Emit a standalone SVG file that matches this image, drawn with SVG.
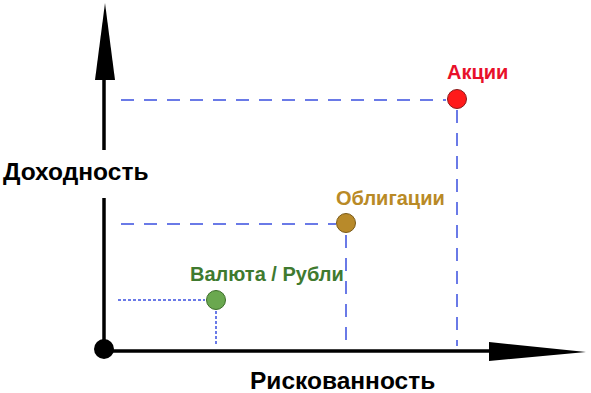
<svg xmlns="http://www.w3.org/2000/svg" width="591" height="393" viewBox="0 0 591 393">
<style>
.axis{stroke:#000;stroke-width:3.5;fill:none}
.dash{stroke:#3a4fe0;stroke-width:1.5;stroke-dasharray:13 10;fill:none}
.dot{stroke:#3a4fe0;stroke-width:1.5;stroke-dasharray:3 2;fill:none}
.title{font-family:"Liberation Sans",Arial,sans-serif;font-weight:bold;font-size:24.5px;fill:#000}
.lbl{font-family:"Liberation Sans",Arial,sans-serif;font-weight:bold;font-size:20px}
</style>
<rect width="591" height="393" fill="#fff"/>
<g id="connectors">
<line class="dash" x1="121" y1="100" x2="446" y2="100"/>
<line class="dash" x1="457" y1="110" x2="457" y2="346"/>
<line class="dash" x1="121" y1="224" x2="336" y2="224"/>
<line class="dash" x1="346" y1="235" x2="346" y2="346"/>
<line class="dot" x1="118" y1="300" x2="205" y2="300"/>
<line class="dot" x1="216" y1="311" x2="216" y2="346"/>
</g>
<g id="axes">
<line class="axis" x1="104" y1="78" x2="104" y2="150"/>
<line class="axis" x1="104" y1="198" x2="104" y2="351"/>
<polygon points="95,80 115,80 105,3" fill="#000"/>
<line class="axis" x1="104" y1="351" x2="492" y2="351"/>
<polygon points="489,342 489,361 586,352" fill="#000"/>
<circle cx="104" cy="349" r="10" fill="#000"/>
</g>
<g id="y-label"><text class="title" x="3" y="180">Доходность</text></g>
<g id="x-label"><text class="title" x="250" y="389">Рискованность</text></g>
<g id="stocks">
<circle cx="457" cy="99" r="9.5" fill="#ff1a1a" stroke="#8a1a1a" stroke-width="1"/>
<text class="lbl" x="447" y="79" fill="#e8102a">Акции</text>
</g>
<g id="bonds">
<circle cx="346" cy="223" r="9.5" fill="#b88a2a" stroke="#7a5a18" stroke-width="1"/>
<text class="lbl" x="336" y="205" fill="#b98a26">Облигации</text>
</g>
<g id="currency">
<circle cx="216" cy="300" r="9.5" fill="#6aa84f" stroke="#3d6e2a" stroke-width="1"/>
<text class="lbl" x="190" y="281" fill="#3f7a2f">Валюта / Рубли</text>
</g>
</svg>
